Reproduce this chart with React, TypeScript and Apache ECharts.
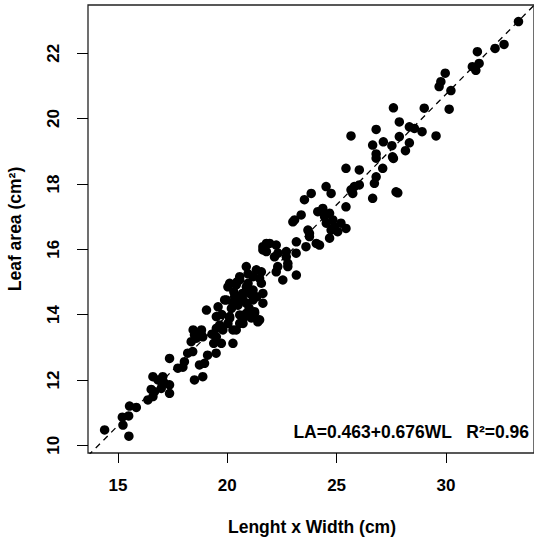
import React, { useEffect, useRef } from "react";
import * as echarts from "echarts";

// Leaf length x width (cm)
const lengthWidth: number[] = [
  14.39, 15.5, 15.23, 15.2, 15.49, 15.53, 15.84, 16.37, 16.6, 16.67, 16.52, 16.6, 16.83, 17.05, 17.13, 17.36, 17.36, 16.98,
  17.36, 17.74, 17.97, 18.04, 18.19, 18.42, 18.35, 18.5, 18.8, 18.88, 18.5, 18.88, 18.73, 18.96, 19.1, 19.38, 19.49, 18.59,
  18.82, 18.44, 19.05, 19.58, 19.5, 19.5, 19.65, 20.03, 20.11, 20.26, 20.41, 20.57, 20.8, 21.25, 21.4, 20.03, 19.96, 20.26,
  20.11, 20.57, 20.95, 21.18, 21.56, 21.63, 21.63, 21.02, 20.57, 20.87, 21.18, 19.5, 19.73, 19.8, 20.72, 20.87, 21.33, 21.56,
  20.57, 21.48, 20.41, 20.87, 21.18, 20.34, 20.72, 20.49, 20.19, 19.88, 20.11, 20.57, 20.87, 21.25, 21.48, 20.26,
  20.3, 20.7, 21.0, 20.45, 21.35, 19.75, 20.95, 21.1, 19.3, 21.79, 21.63,
  21.63, 21.94, 22.24, 22.32, 21.79, 22.7, 23.16, 22.77, 22.24, 22.54, 23.16, 23.08, 23.38, 23.76, 23.69, 24.07, 24.22, 24.68,
  23.53, 23.84, 24.52, 24.75, 24.14, 24.37, 24.45, 24.68, 24.83, 24.53, 24.9, 25.2, 25.43, 24.75, 25.05, 25.43, 25.43, 26.04,
  25.66, 25.81, 26.04, 25.74, 26.65, 26.81, 27.11, 26.81, 26.73, 27.72, 27.56, 22.16, 22.31, 22.77, 23.0, 23.6, 23.15, 22.7,
  23.76, 25.66,
  33.32, 32.25, 32.66, 31.44, 31.21, 31.52, 31.37, 29.97, 29.77, 29.69, 30.23, 30.15, 29.01, 27.6, 27.87, 28.33, 28.56, 28.91,
  29.55, 26.81, 27.87, 27.14, 26.65, 27.53, 28.33, 28.15, 26.81, 27.6, 27.8,
];

// Leaf area (cm²)
const leafArea: number[] = [
  10.47, 10.28, 10.62, 10.86, 10.9, 11.2, 11.16, 11.39, 11.49, 11.64, 11.71, 12.1, 12.0, 12.1, 11.9, 11.85, 11.59, 11.74,
  12.66, 12.36, 12.39, 12.56, 12.82, 12.87, 13.17, 13.38, 13.43, 13.32, 12.0, 12.1, 12.46, 12.51, 12.76, 13.12, 12.82, 13.28,
  13.53, 13.53, 14.14, 14.24, 13.94, 13.58, 13.68, 13.73, 13.89, 13.12, 13.53, 13.73, 13.94, 14.04, 13.78, 14.85, 14.45, 14.35,
  14.96, 15.06, 14.96, 15.16, 14.96, 14.65, 14.35, 14.65, 14.45, 14.35, 14.45, 13.32, 13.12, 13.53, 13.73, 15.47, 15.37, 15.31,
  15.16, 15.11, 14.91, 14.85, 14.75, 14.55, 14.45, 14.29, 14.19, 14.45, 13.94, 13.99, 14.04, 14.09, 13.84, 13.53,
  14.7, 14.65, 14.2, 15.0, 14.55, 14.0, 15.25, 13.9, 13.4, 16.18, 15.98,
  16.08, 16.18, 16.13, 15.88, 15.93, 15.93, 16.23, 15.57, 15.31, 15.06, 15.21, 16.9, 17.05, 16.39, 16.59, 16.18, 16.13, 16.34,
  17.52, 17.71, 17.92, 17.71, 17.15, 17.25, 17.0, 17.1, 16.9, 16.8, 16.69, 16.8, 16.64, 16.59, 16.54, 17.3, 18.48, 18.43,
  17.82, 17.92, 17.97, 17.71, 17.56, 18.22, 18.48, 18.79, 18.02, 17.76, 18.83, 15.77, 15.47, 15.47, 16.84, 16.08, 15.88, 15.77,
  16.49, 19.47,
  22.97, 22.15, 22.27, 22.05, 21.59, 21.69, 21.48, 21.39, 21.13, 20.98, 20.86, 20.29, 20.32, 20.33, 19.9, 19.75, 19.7, 19.6,
  19.47, 19.67, 19.45, 19.29, 19.19, 19.17, 19.26, 19.02, 18.92, 18.78, 17.73,
];

const xTicks = [15, 20, 25, 30];
const yTicks = [10, 12, 14, 16, 18, 20, 22];
const xRange = [13.63, 34.03];
const yRange = [9.764, 23.478];
const intercept = 0.463;
const slope = 0.676;
const equationLabel = "LA=0.463+0.676WL   R²=0.96";
const xTitle = "Lenght x Width (cm)";
const yTitle = "Leaf area (cm²)";

const FONT = "'Liberation Sans', Arial, Helvetica, sans-serif";

export default function App() {
  const ref = useRef<HTMLDivElement>(null);

  useEffect(() => {
    document.body.style.margin = "0";
    if (!ref.current) return;
    const chart = echarts.init(ref.current, undefined, { renderer: "svg" });

    const points = lengthWidth.map((x, i) => [x, leafArea[i]]);
    const fitLine = xRange.map((x) => [x, intercept + slope * x]);

    const labelStyle = {
      color: "#000",
      fontSize: 17,
      fontWeight: "bold" as const,
      fontFamily: FONT,
    };

    chart.setOption({
      animation: false,
      backgroundColor: "#fff",
      grid: {
        left: 88,
        top: 5,
        width: 447,
        height: 448,
        show: true,
        borderColor: "#222",
        borderWidth: 1.3,
        containLabel: false,
      },
      xAxis: {
        type: "value",
        min: xRange[0],
        max: xRange[1],
        axisLine: { show: false },
        splitLine: { show: false },
        axisTick: {
          show: true,
          length: 10,
          customValues: xTicks,
          lineStyle: { color: "#000", width: 1 },
        },
        axisLabel: {
          ...labelStyle,
          customValues: xTicks,
          margin: 24,
        },
      },
      yAxis: {
        type: "value",
        min: yRange[0],
        max: yRange[1],
        axisLine: { show: false },
        splitLine: { show: false },
        axisTick: {
          show: true,
          length: 11,
          customValues: yTicks,
          lineStyle: { color: "#000", width: 1 },
        },
        axisLabel: {
          ...labelStyle,
          customValues: yTicks,
          rotate: 90,
          margin: 26,
        },
      },
      series: [
        {
          type: "scatter",
          data: points,
          symbol: "circle",
          symbolSize: 9.5,
          itemStyle: { color: "#000", opacity: 1 },
          z: 2,
        },
        {
          type: "line",
          data: fitLine,
          symbol: "none",
          clip: true,
          lineStyle: { color: "#000", width: 1.3, type: [6, 5] },
          z: 3,
        },
      ],
      graphic: [
        {
          type: "text",
          x: 529,
          y: 432,
          style: {
            text: equationLabel,
            align: "right",
            verticalAlign: "middle",
            fill: "#000",
            font: `bold 17.5px ${FONT}`,
          },
        },
        {
          type: "text",
          x: 312,
          y: 527,
          style: {
            text: xTitle,
            align: "center",
            verticalAlign: "middle",
            fill: "#000",
            font: `bold 17.5px ${FONT}`,
          },
        },
        {
          type: "text",
          x: 15,
          y: 229,
          rotation: Math.PI / 2,
          style: {
            text: yTitle,
            align: "center",
            verticalAlign: "middle",
            fill: "#000",
            font: `bold 17.5px ${FONT}`,
          },
        },
      ],
    });

    return () => chart.dispose();
  }, []);

  return <div ref={ref} style={{ width: 534, height: 541 }} />;
}
